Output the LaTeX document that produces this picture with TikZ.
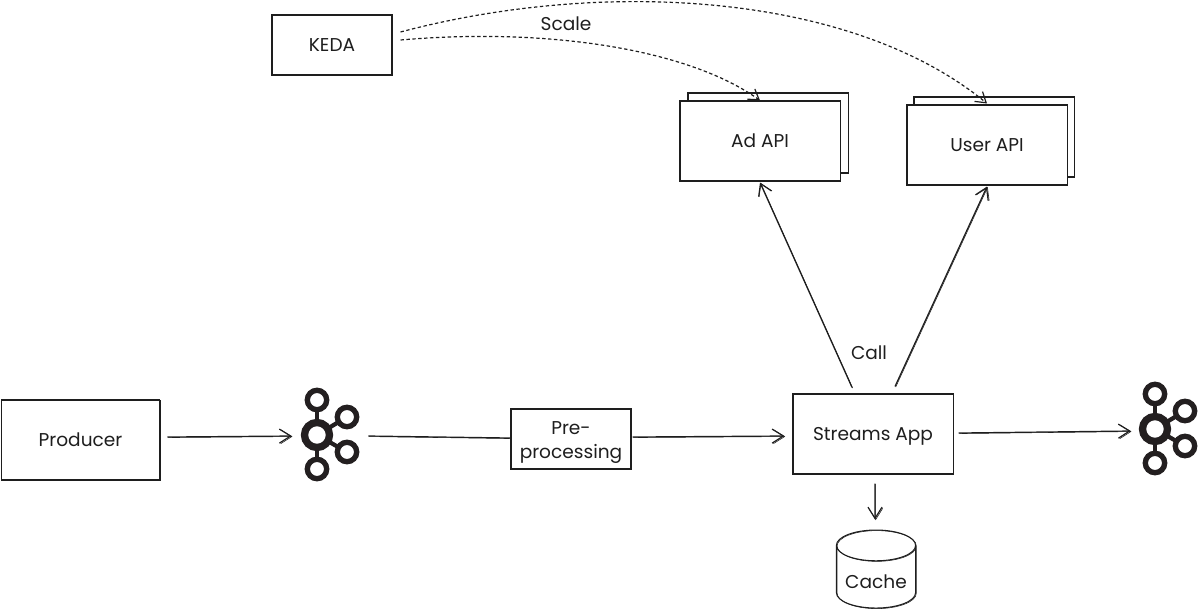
\documentclass[tikz,border=0pt]{standalone}
\usepackage{fontspec}
\setmainfont{Poppins}
\usepackage{xcolor}
\usepackage{tikz}
\usetikzlibrary{shapes.geometric,arrows.meta,calc}

\definecolor{inkblack}{HTML}{1E1E1E}
\definecolor{kafkablack}{HTML}{231F20}

% Kafka logo, drawn round an empty node
\newcommand{\kafkalogo}[1]{
  \begin{scope}[shift={(#1.center)}, draw=kafkablack]
    \draw[line width=3pt] (-14,-35) -- (-14,34);
    \draw[line width=3pt] (-14,0) -- (16,-18);
    \draw[line width=3pt] (-14,0) -- (16,17);
    \draw[line width=5.2pt, fill=white] (-14,0) circle (12.5);
    \draw[line width=3.8pt, fill=white] (-14,-35) circle (9.7);
    \draw[line width=3.8pt, fill=white] (-14,34) circle (9.7);
    \draw[line width=3.8pt, fill=white] (16,-18) circle (9.7);
    \draw[line width=3.8pt, fill=white] (16,17) circle (9.7);
  \end{scope}
}

\begin{document}
\begin{tikzpicture}[
    x=0.025cm, y=-0.025cm,
    font=\fontsize{13.2}{17}\selectfont,
    color=inkblack,
    sketch/.style={preaction={draw, line width=0.4pt, transform canvas={shift={(0.5pt,-0.4pt)}}}},
    comp/.style={rectangle, minimum width=4cm, minimum height=2cm, align=center, draw=inkblack, line width=0.75pt, fill=white, inner sep=0pt, sketch},
    smallcomp/.style={comp, minimum width=3cm, minimum height=1.5cm},
    cache/.style={cylinder, shape border rotate=90, aspect=0.5, minimum width=1.98cm, minimum height=1.95cm, draw=inkblack, line width=0.75pt, inner sep=0pt, text centered, sketch},
    logo/.style={minimum width=1.45cm, minimum height=2.35cm, inner sep=0pt},
    arrow/.style={-{Straight Barb[length=8pt, width=10pt]}, line width=0.85pt, sketch},
    darrow/.style={-{Straight Barb[length=7pt, width=9pt]}, line width=0.85pt, dash pattern=on 2.4pt off 1.8pt},
]
\useasboundingbox (0,0) rectangle (1199,610);

% Producer
\node[comp, minimum width=3.97cm] (producer) at (80.5,440) {Producer};

% Kafka topics
\node[logo] (kafkain) at (331,435) {};
\kafkalogo{kafkain}
\node[logo] (kafkaout) at (1169,429) {};
\kafkalogo{kafkaout}

% Pre-processing
\node[smallcomp] (preproc) at (571,439) {\rule{0pt}{1.1em}Pre-\\ processing};

% Streams App
\node[comp, text depth=0pt] (streams) at (873,434) {Streams App};

% Cache
\node[cache] (cachedb) at (876,577) {\raisebox{-2.2ex}{Cache}};

% Keda
\node[smallcomp] (keda) at (332,45) {KEDA};

% Ad API, one copy behind the other
\node[comp] (adback) at (768,133) {};
\node[comp] (adapi) at (760,141) {Ad API};

% User API, same
\node[comp] (userback) at (994,137) {};
\node[comp] (userapi) at (987,145) {User API};

% Main flow
\draw[arrow] ([shift={(7,-3)}]producer.east) -- ([shift={(-10,1)}]kafkain.west);
\draw[line width=0.85pt, sketch] ([shift={(8,1)}]kafkain.east) -- ([shift={(0,-1)}]preproc.west);
\draw[arrow] ([shift={(1,-2)}]preproc.east) -- ([shift={(-8,2)}]streams.west);
\draw[arrow] ([shift={(5,-1)}]streams.east) -- ([shift={(-9,2)}]kafkaout.west);
\draw[arrow] ([shift={(2,9)}]streams.south) -- ([shift={(-1,-10)}]cachedb.north);

% Calls out of the app
\draw[arrow] ([shift={(-21,-6)}]streams.north) -- ([shift={(0,1)}]adapi.south);
\draw[arrow] ([shift={(22,-7)}]streams.north) -- ([shift={(0,1)}]userapi.south);
\node (calllabel) at (869,353) {Call};

% Scaling by Keda
\draw[darrow] ([shift={(8,-5)}]keda.east) .. controls (550,27) and (690,50) .. (adapi.north);
\draw[darrow] ([shift={(8,-13)}]keda.east) .. controls (600,-21) and (850,-9) .. ([shift={(0,-1)}]userapi.north);
\node (scalelabel) at (566,24) {Scale};
\end{tikzpicture}
\end{document}
